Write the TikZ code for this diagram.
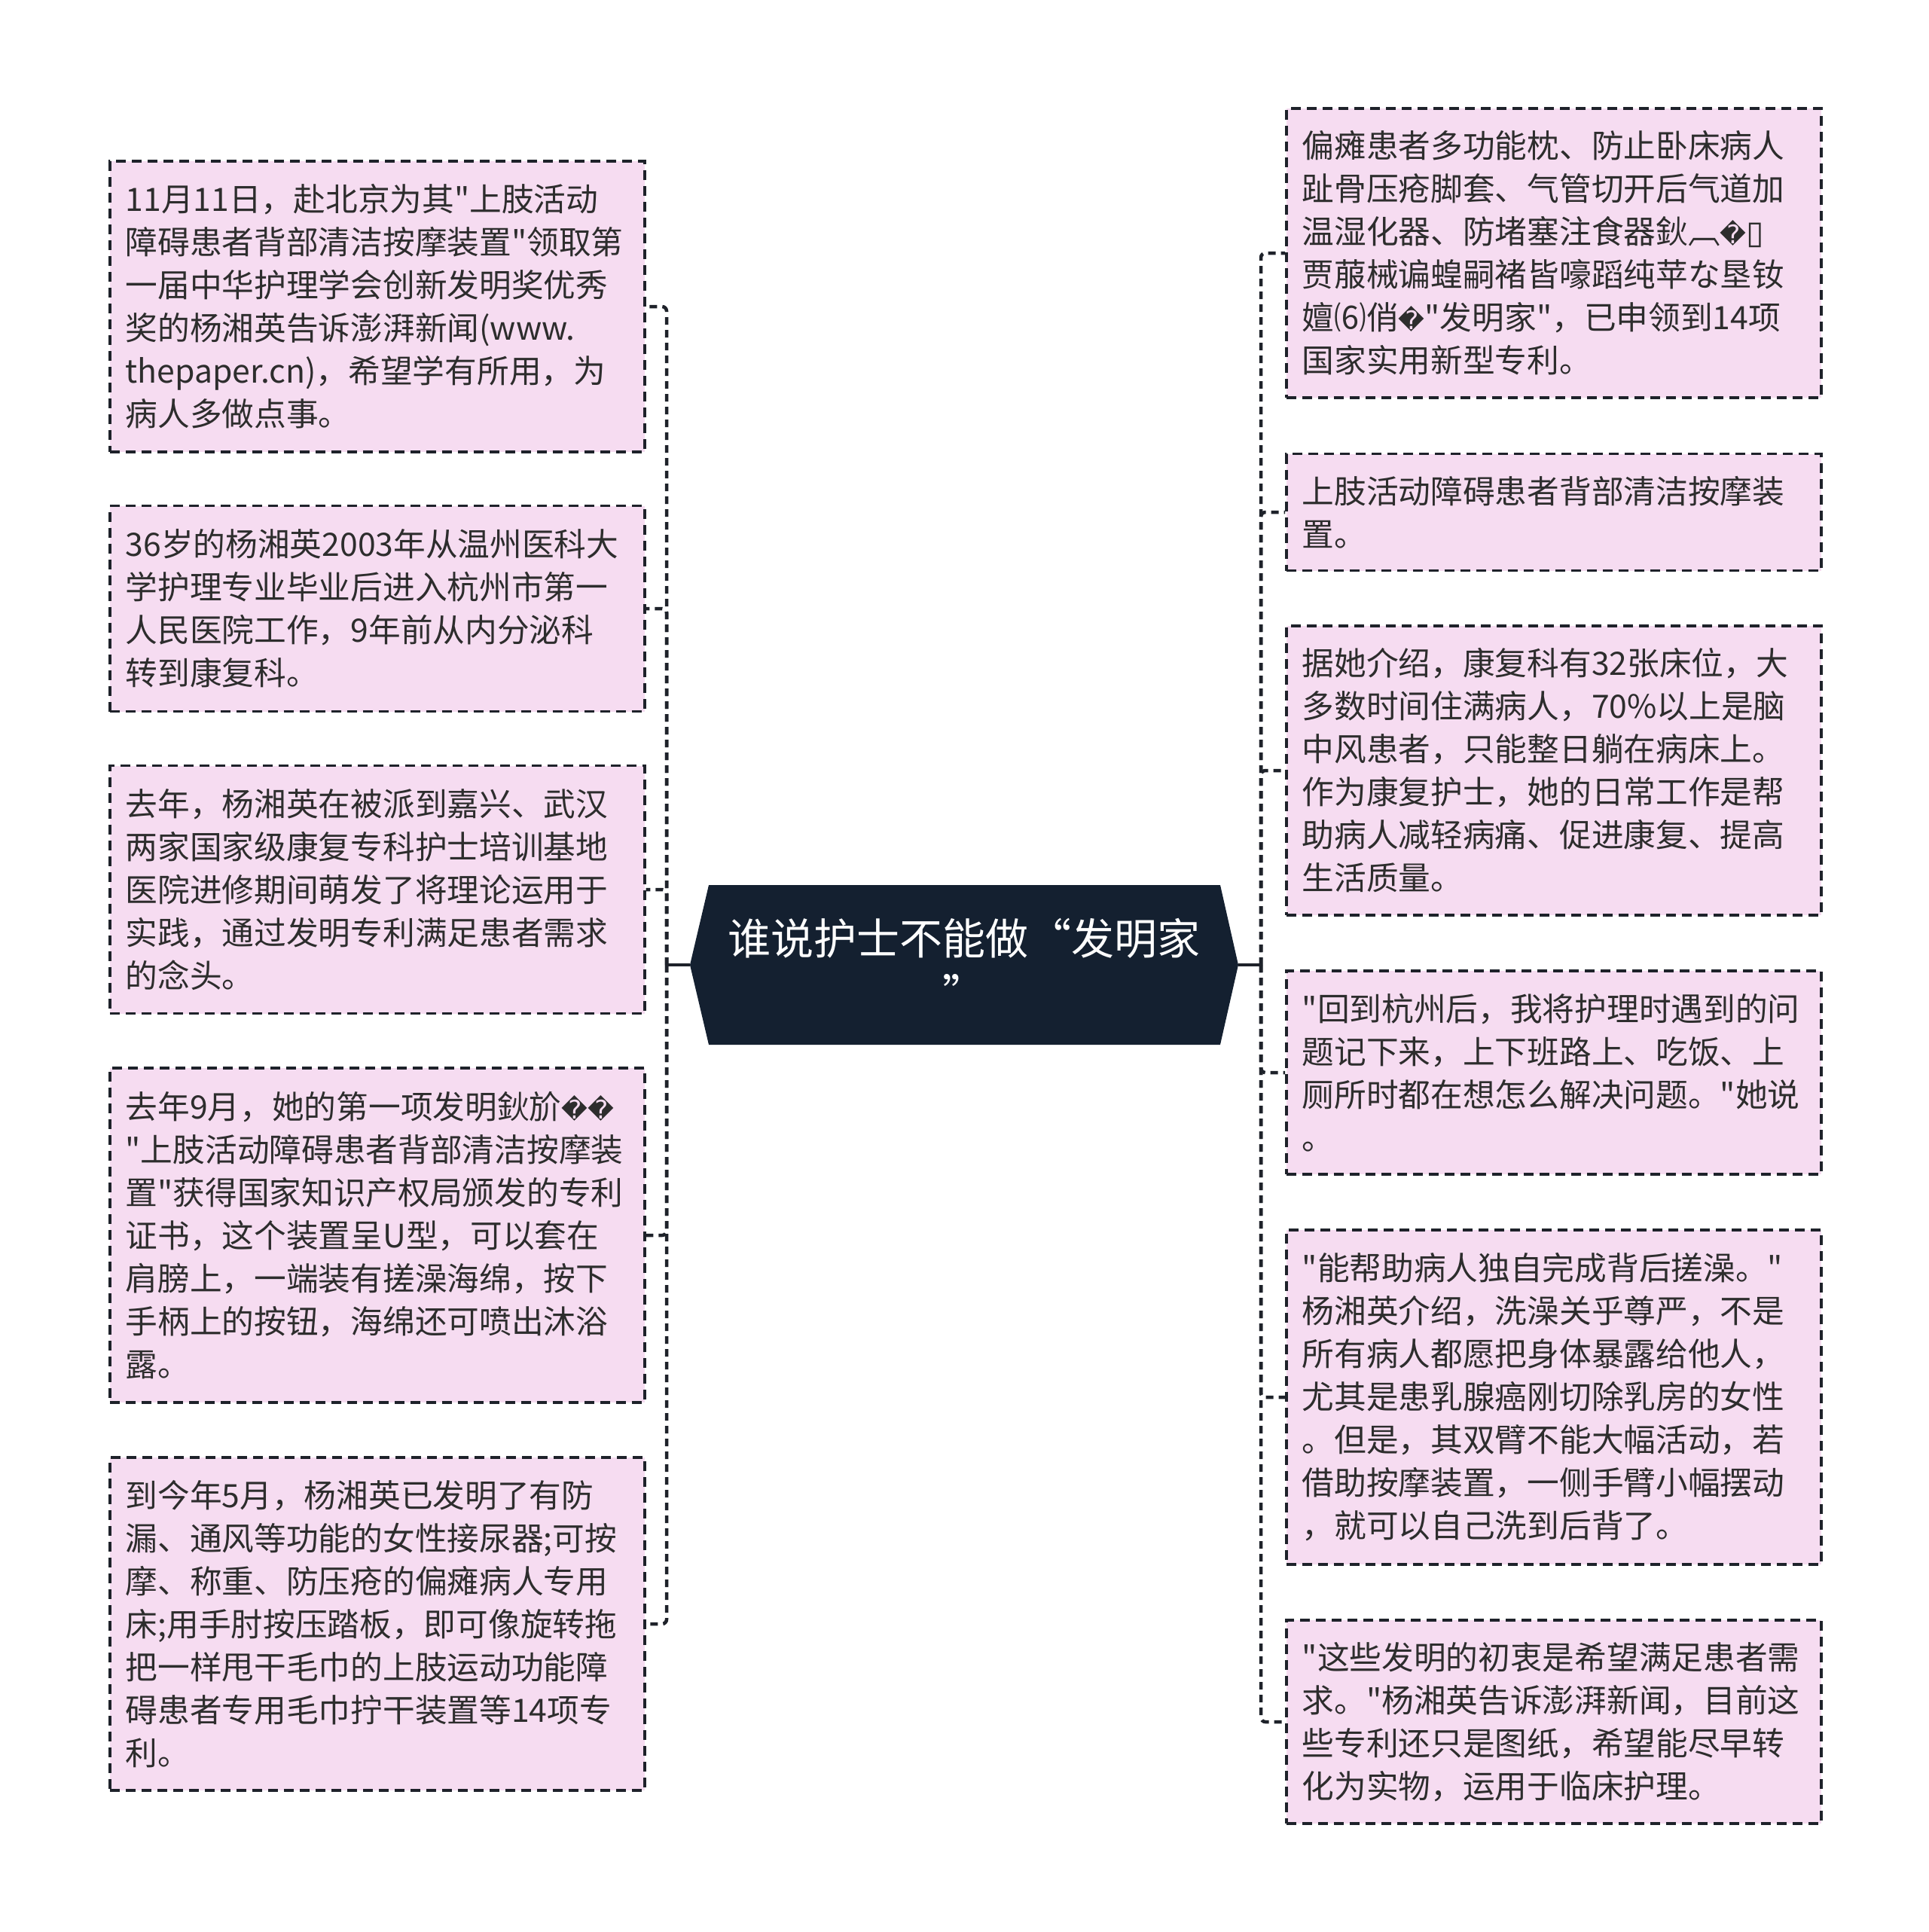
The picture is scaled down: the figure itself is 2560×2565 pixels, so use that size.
\documentclass[tikz,border=0pt]{standalone}
\usepackage{fontspec}
\newfontfamily\cjkfont{Noto Sans CJK SC}
\newfontfamily\symfont{DejaVu Sans}
\definecolor{LeafClr}{RGB}{246,220,241}
\definecolor{EdgeClr}{RGB}{30,34,42}
\definecolor{TopicClr}{RGB}{20,32,48}
\definecolor{TextClr}{RGB}{45,45,45}
\newcommand{\rc}{{\symfont\fontsize{34}{57}\selectfont\symbol{"FFFD}}}
\newcommand{\tofu}{{\symfont\symbol{"25AF}}}

\begin{document}
\begin{tikzpicture}[x=1pt,y=-1pt,
  leaf/.style={draw=EdgeClr,fill=LeafClr,line width=3.5pt,dash pattern=on 13pt off 8pt,
    text=TextClr,text width=668pt,inner xsep=21pt,inner ysep=0pt,align=left,anchor=west,
    font=\cjkfont\fontsize{42.7}{57}\selectfont},
  topic/.style={text=white,align=center,font=\cjkfont\fontsize{57}{74}\selectfont},
  link/.style={draw=EdgeClr,line width=4.5pt,dash pattern=on 10pt off 7pt,rounded corners=6pt},
  stub/.style={draw=EdgeClr,line width=4.5pt}]
\useasboundingbox (0,0) rectangle (2560,2565);

\coordinate (ctrL) at (916,1281);
\coordinate (ctrR) at (1644,1281);
\coordinate (jL) at (885,1281);
\coordinate (jR) at (1674,1281);

\fill[TopicClr] (ctrL) -- (941,1175) -- (1620,1175) -- (ctrR) -- (1620,1387) -- (941,1387) -- cycle;
\node[topic] (ctr) at (1280,1280) {谁说护士不能做“发明家\\”};

\node[leaf,minimum height=386pt] (L1) at (144,407) {11月11日，赴北京为其"上肢活动\\障碍患者背部清洁按摩装置"领取第\\一届中华护理学会创新发明奖优秀\\奖的杨湘英告诉澎湃新闻(www.\\thepaper.cn)，希望学有所用，为\\病人多做点事。};
\node[leaf,minimum height=273pt] (L2) at (144,808) {36岁的杨湘英2003年从温州医科大\\学护理专业毕业后进入杭州市第一\\人民医院工作，9年前从内分泌科\\转到康复科。};
\node[leaf,minimum height=329pt] (L3) at (144,1181) {去年，杨湘英在被派到嘉兴、武汉\\两家国家级康复专科护士培训基地\\医院进修期间萌发了将理论运用于\\实践，通过发明专利满足患者需求\\的念头。};
\node[leaf,minimum height=444pt] (L4) at (144,1640) {去年9月，她的第一项发明鈥斺\rc\rc\\"上肢活动障碍患者背部清洁按摩装\\置"获得国家知识产权局颁发的专利\\证书，这个装置呈U型，可以套在\\肩膀上，一端装有搓澡海绵，按下\\手柄上的按钮，海绵还可喷出沐浴\\露。};
\node[leaf,minimum height=442pt] (L5) at (144,2156) {到今年5月，杨湘英已发明了有防\\漏、通风等功能的女性接尿器;可按\\摩、称重、防压疮的偏瘫病人专用\\床;用手肘按压踏板，即可像旋转拖\\把一样甩干毛巾的上肢运动功能障\\碍患者专用毛巾拧干装置等14项专\\利。};

\node[leaf,minimum height=384pt] (R1) at (1706,336) {偏瘫患者多功能枕、防止卧床病人\\趾骨压疮脚套、气管切开后气道加\\温湿化器、防堵塞注食器鈥︹\rc\tofu\\贾菔械谝蝗嗣褚皆嚎蹈纯苹な垦钕\\嬗⑹俏\rc"发明家"，已申领到14项\\国家实用新型专利。};
\node[leaf,minimum height=155pt] (R2) at (1706,680) {上肢活动障碍患者背部清洁按摩装\\置。};
\node[leaf,minimum height=384pt] (R3) at (1706,1023) {据她介绍，康复科有32张床位，大\\多数时间住满病人，70\%以上是脑\\中风患者，只能整日躺在病床上。\\作为康复护士，她的日常工作是帮\\助病人减轻病痛、促进康复、提高\\生活质量。};
\node[leaf,minimum height=270pt] (R4) at (1706,1424) {"回到杭州后，我将护理时遇到的问\\题记下来，上下班路上、吃饭、上\\厕所时都在想怎么解决问题。"她说\\。};
\node[leaf,minimum height=444pt] (R5) at (1706,1855) {"能帮助病人独自完成背后搓澡。"\\杨湘英介绍，洗澡关乎尊严，不是\\所有病人都愿把身体暴露给他人，\\尤其是患乳腺癌刚切除乳房的女性\\。但是，其双臂不能大幅活动，若\\借助按摩装置，一侧手臂小幅摆动\\，就可以自己洗到后背了。};
\node[leaf,minimum height=270pt] (R6) at (1706,2286) {"这些发明的初衷是希望满足患者需\\求。"杨湘英告诉澎湃新闻，目前这\\些专利还只是图纸，希望能尽早转\\化为实物，运用于临床护理。};

\draw[stub] (ctrL) -- (jL);
\draw[stub] (ctrR) -- (jR);
\foreach \n in {L1,L2,L3,L4,L5}
  \draw[link] (jL) |- (\n.east);
\foreach \n in {R1,R2,R3,R4,R5,R6}
  \draw[link] (jR) |- (\n.west);

\end{tikzpicture}
\end{document}
